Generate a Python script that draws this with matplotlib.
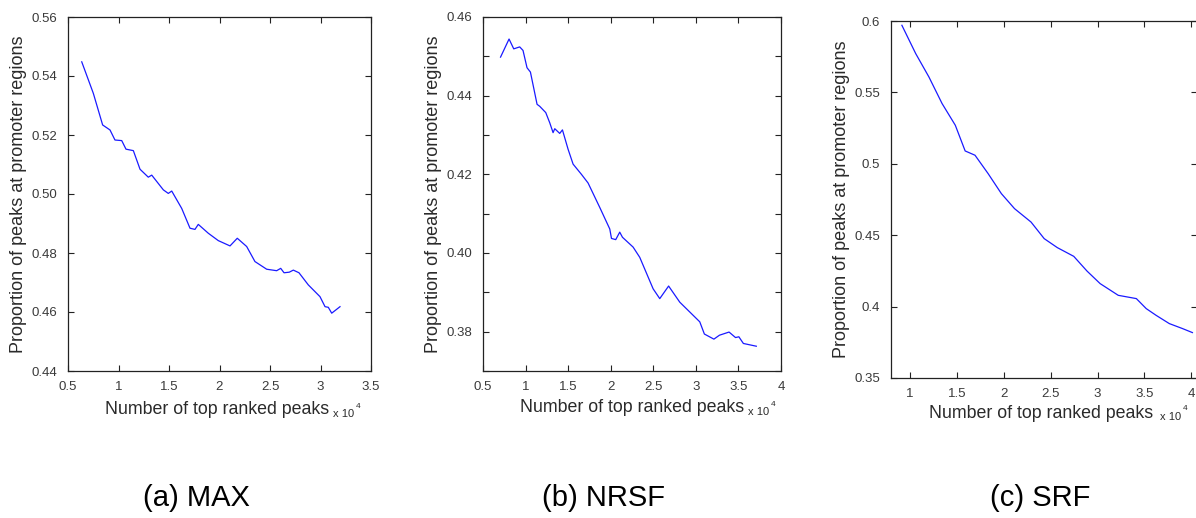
import numpy as np
import matplotlib.pyplot as plt

plt.rcParams['font.family'] = ['Liberation Sans', 'DejaVu Sans']

# number of top ranked peaks (x 10^4) and proportion at promoter regions
max_x = [0.636, 0.751, 0.843, 0.916, 0.965, 1.032, 1.074, 1.147, 1.213, 1.295,
         1.329, 1.444, 1.493, 1.527, 1.626, 1.708, 1.757, 1.790, 1.889, 1.988,
         2.104, 2.176, 2.269, 2.351, 2.467, 2.566, 2.606, 2.639, 2.691, 2.731,
         2.787, 2.879, 2.995, 3.045, 3.077, 3.111, 3.193]
max_y = [0.5448, 0.5341, 0.5234, 0.5217, 0.5183, 0.5181, 0.5152, 0.5147, 0.5084, 0.5057,
         0.5064, 0.5014, 0.5002, 0.5010, 0.4951, 0.4884, 0.4880, 0.4897, 0.4867, 0.4842,
         0.4824, 0.4850, 0.4822, 0.4771, 0.4745, 0.4740, 0.4748, 0.4733, 0.4735, 0.4742,
         0.4733, 0.4692, 0.4652, 0.4618, 0.4616, 0.4596, 0.4618]

nrsf_x = [0.706, 0.806, 0.861, 0.931, 0.970, 1.017, 1.057, 1.135, 1.166, 1.237,
          1.284, 1.323, 1.343, 1.401, 1.433, 1.499, 1.558, 1.656, 1.734, 1.871,
          1.989, 2.009, 2.059, 2.106, 2.138, 2.263, 2.341, 2.498, 2.576, 2.680,
          2.811, 3.046, 3.100, 3.212, 3.277, 3.390, 3.466, 3.505, 3.558, 3.710]
nrsf_y = [0.4498, 0.4544, 0.4519, 0.4524, 0.4515, 0.4471, 0.4460, 0.4378, 0.4373, 0.4357,
          0.4331, 0.4306, 0.4316, 0.4304, 0.4313, 0.4264, 0.4226, 0.4200, 0.4178, 0.4116,
          0.4061, 0.4037, 0.4034, 0.4053, 0.4040, 0.4015, 0.3989, 0.3909, 0.3884, 0.3916,
          0.3875, 0.3825, 0.3794, 0.3781, 0.3791, 0.3799, 0.3785, 0.3787, 0.3770, 0.3763]

srf_x = [0.916, 1.063, 1.204, 1.344, 1.485, 1.590, 1.695, 1.835, 1.976, 2.116,
         2.292, 2.432, 2.572, 2.747, 2.888, 3.028, 3.221, 3.414, 3.519, 3.624,
         3.765, 3.906, 4.011]
srf_y = [0.597, 0.5772, 0.5608, 0.5422, 0.527, 0.509, 0.506, 0.4931, 0.4791, 0.4686,
         0.4592, 0.4476, 0.4413, 0.4352, 0.4249, 0.4161, 0.4079, 0.4056, 0.3986, 0.3939,
         0.3881, 0.3846, 0.3818]

max_yticks = [0.44, 0.46, 0.48, 0.50, 0.52, 0.54, 0.56]
max_ylabels = ['0.44', '0.46', '0.48', '0.50', '0.52', '0.54', '0.56']
max_xticks = [0.5, 1, 1.5, 2, 2.5, 3, 3.5]
max_xlabels = ['0.5', '1', '1.5', '2', '2.5', '3', '3.5']

nrsf_yticks = [0.37, 0.38, 0.39, 0.40, 0.41, 0.42, 0.43, 0.44, 0.45, 0.46]
nrsf_ylabels = ['', '0.38', '', '0.40', '', '0.42', '', '0.44', '', '0.46']
nrsf_xticks = [0.5, 1, 1.5, 2, 2.5, 3, 3.5, 4]
nrsf_xlabels = ['0.5', '1', '1.5', '2', '2.5', '3', '3.5', '4']

srf_yticks = [0.35, 0.4, 0.45, 0.5, 0.55, 0.6]
srf_ylabels = ['0.35', '0.4', '0.45', '0.5', '0.55', '0.6']
srf_xticks = [1, 1.5, 2, 2.5, 3, 3.5, 4]
srf_xlabels = ['1', '1.5', '2', '2.5', '3', '3.5', '4']

captions = ['(a) MAX', '(b) NRSF', '(c) SRF']

W, H = 1196, 518
fig = plt.figure(figsize=(W / 100, H / 100), dpi=100)


def px_rect(left, top, right, bottom):
    return [left / W, 1 - bottom / H, (right - left) / W, (bottom - top) / H]


def panel(rect, x, y, xlim, ylim, xticks, xlabels, yticks, ylabels):
    ax = fig.add_axes(rect)
    ax.plot(x, y, color='#1a1aff', lw=0.9)
    ax.set_xlim(xlim)
    ax.set_ylim(ylim)
    ax.set_xticks(xticks)
    ax.set_xticklabels(xlabels)
    ax.set_yticks(yticks)
    ax.set_yticklabels(ylabels)
    ax.tick_params(direction='in', length=4, width=0.8, top=True, right=True,
                   labelsize=9.5, labelcolor='#3a3a3a', color='#222222')
    ax.tick_params(axis='y', pad=8)
    ax.tick_params(axis='x', pad=7)
    for s in ax.spines.values():
        s.set_linewidth(0.9)
        s.set_color('#222222')
    ax.set_ylabel('Proportion of peaks at promoter regions', fontsize=13,
                  color='#2a2a2a', labelpad=3)
    return ax


ax1 = panel(px_rect(68, 17, 371, 371), max_x, max_y, (0.5, 3.5), (0.44, 0.56),
            max_xticks, max_xlabels, max_yticks, max_ylabels)
ax2 = panel(px_rect(483, 17, 781, 371), nrsf_x, nrsf_y, (0.5, 4.0), (0.37, 0.46),
            nrsf_xticks, nrsf_xlabels, nrsf_yticks, nrsf_ylabels)
ax3 = panel(px_rect(891, 21, 1197, 378), srf_x, srf_y, (0.8, 4.06), (0.35, 0.6),
            srf_xticks, srf_xlabels, srf_yticks, srf_ylabels)

# x labels with the MATLAB-style exponent tucked after them
for cx, ex, ly in [(217, 333, 410), (632, 748, 408), (1041, 1160, 413)]:
    fig.text(cx / W, 1 - ly / H, 'Number of top ranked peaks', fontsize=12.8,
             color='#2a2a2a', ha='center', va='center')
    fig.text(ex / W, 1 - (ly + 4) / H, 'x 10', fontsize=8, color='#2a2a2a',
             ha='left', va='center')
    fig.text((ex + 23) / W, 1 - (ly - 4) / H, '4', fontsize=6, color='#2a2a2a',
             ha='left', va='center')

for cx, text in zip([196, 603, 1040], captions):
    fig.text(cx / W, 1 - 498 / H, text, fontsize=21, color='black',
             ha='center', va='center')

fig.savefig('out.png', dpi=100)
